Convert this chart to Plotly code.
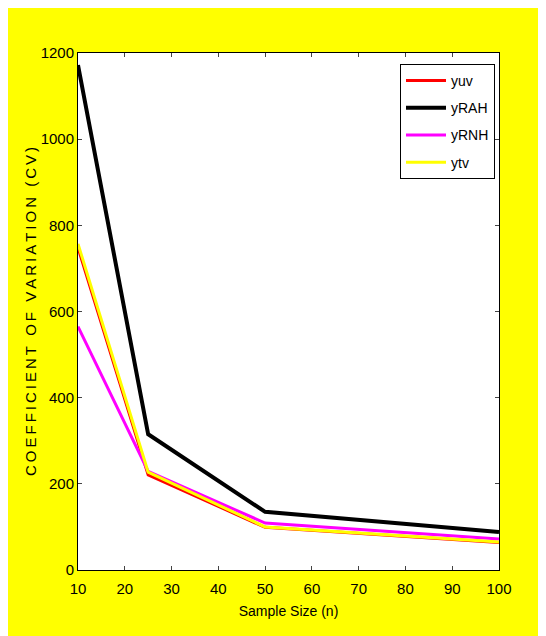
import plotly.graph_objects as go

n = [10, 25, 50, 100]
yuv = [748, 221, 99, 64]
yRAH = [1172, 315, 135, 88]
yRNH = [565, 229, 109, 72]
ytv = [757, 227, 100, 65]

x_ticks = [10, 20, 30, 40, 50, 60, 70, 80, 90, 100]
y_ticks = [0, 200, 400, 600, 800, 1000, 1200]

series = [("yuv", yuv, "#ff0000", 3), ("yRAH", yRAH, "#000000", 4),
          ("yRNH", yRNH, "#ff00ff", 3), ("ytv", ytv, "#ffff00", 3)]

fig = go.Figure()
for i, (name, vals, col, w) in enumerate(series):
    fig.add_trace(go.Scatter(x=n, y=vals, mode="lines", name=name,
                             line=dict(color=col, width=w), legendgroup=str(i)))

# page has an 8px body margin; figure coordinates are offset by it
W, H = 538, 628
L, R, T, B = 70, 47, 45, 66
pw, ph = W - L - R, H - T - B
font = "Liberation Sans, Arial"

ytitle = "COEFFICIENT OF VARIATION (CV)"
ytitle_sp = "\u2009".join(ytitle).replace("\u2009 \u2009", "\u2009\u2009 ")

fig.update_layout(
    width=W, height=H,
    margin=dict(l=L, r=R, t=T, b=B),
    paper_bgcolor="#ffff00",
    plot_bgcolor="white",
    showlegend=True,
    legend=dict(x=(487 - L) / pw, xanchor="right", y=(H - B - 56) / ph, yanchor="top",
                bgcolor="white", bordercolor="black", borderwidth=1,
                font=dict(family=font, size=14, color="black"),
                tracegroupgap=6, itemwidth=40),
    xaxis=dict(range=[10, 100], tickvals=x_ticks, ticks="inside", ticklen=4,
               showline=True, linecolor="black", linewidth=1, mirror="ticks",
               showgrid=False, zeroline=False, ticklabelstandoff=5,
               tickfont=dict(family=font, size=15, color="black"),
               title=dict(text="Sample Size (n)", standoff=10,
                          font=dict(family=font, size=14, color="black"))),
    yaxis=dict(range=[0, 1200], tickvals=y_ticks, ticks="inside", ticklen=4,
               showline=True, linecolor="black", linewidth=1, mirror="ticks",
               showgrid=False, zeroline=False,
               tickfont=dict(family=font, size=15, color="black"),
               title=dict(text=ytitle_sp, standoff=0,
                          font=dict(family=font, size=15, color="black"))),
)

fig.write_html("out.html")
